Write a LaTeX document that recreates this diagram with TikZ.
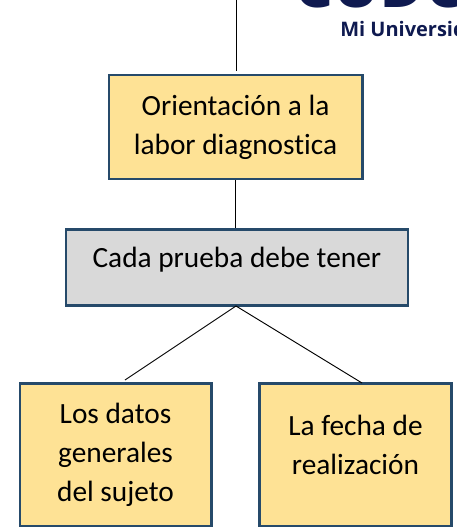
\documentclass[tikz,border=0pt]{standalone}
\usepackage{fontspec}
\setmainfont[Ligatures=CommonOff]{Carlito}
\newfontfamily\logofont{Open Sans}
\usepackage[usenames, dvipsnames]{xcolor}
\usepackage{tikz}
\usetikzlibrary{positioning}
\definecolor{boxline}{HTML}{264A6A}
\definecolor{boxyellow}{HTML}{FEE295}
\definecolor{boxgray}{HTML}{D9D9D9}
\definecolor{logoblue}{HTML}{0F1A50}

\begin{document}
\begin{tikzpicture}[
    x=0.75pt,
    y=-0.75pt,
    font=\fontsize{22pt}{29.25pt}\selectfont,
    block/.style={
		rectangle,
		draw=boxline,
		line width=2pt,
		text=black,
		text centered,
		inner sep=0pt,
		fill=boxyellow
	},
	link/.style={
		draw=black,
		line width=0.7pt
	}
  ]
  \useasboundingbox (0,0) rectangle (456,527);
  % the logo at the top is cut off by the page
  \begin{scope}
  \clip (0,0) rectangle (456,527);
  \node [anchor=base west, inner sep=0pt, text=logoblue, font=\logofont\bfseries\fontsize{15pt}{16pt}\selectfont] (logotext) at (340,37) {Mi Universidad};
  \node [anchor=base west, inner sep=0pt, text=logoblue, font=\logofont\bfseries\fontsize{46pt}{46pt}\selectfont] (logoname) at (294,7.5) {CUDC};
  \end{scope}

  % We start by placing the blocks
  \node [block, minimum width=190pt, minimum height=78pt] (orient) at (235.5,127)
 {%
 \begin{tabular}{c}
  Orientación a la\\
  labor diagnostica
 \end{tabular}
 };

  \node [block, minimum width=256.5pt, minimum height=57pt, fill=boxgray, below=36pt of orient, xshift=1pt,
         text height=10pt, text depth=10pt] (cada)
 {Cada prueba debe tener};

  \node [block, minimum width=143.5pt, minimum height=107pt] (datos) at (115.5,455)
 {%
 \begin{tabular}{c}
  Los datos\\
  generales\\
  del sujeto
 \end{tabular}
 };

  \node [block, minimum width=144pt, minimum height=107pt] (fecha) at (355.5,455)
 {%
 \begin{tabular}{c}
  La fecha de\\
  realización\\[-18pt]
  ~
 \end{tabular}
 };

 \coordinate (top) at (236,0);
 \coordinate (endl) at (125,380);
 \coordinate (endr) at (362,383);
 \coordinate (endo) at (236,71);
 \coordinate (fork) at (236,306);

 \draw [link] (top) -- (endo);
 \draw [link] (orient.south) -- (orient.south |- cada.north);
 \draw [link] (fork) -- (endl);
 \draw [link] (fork) -- (endr);

\end{tikzpicture}
\end{document}
